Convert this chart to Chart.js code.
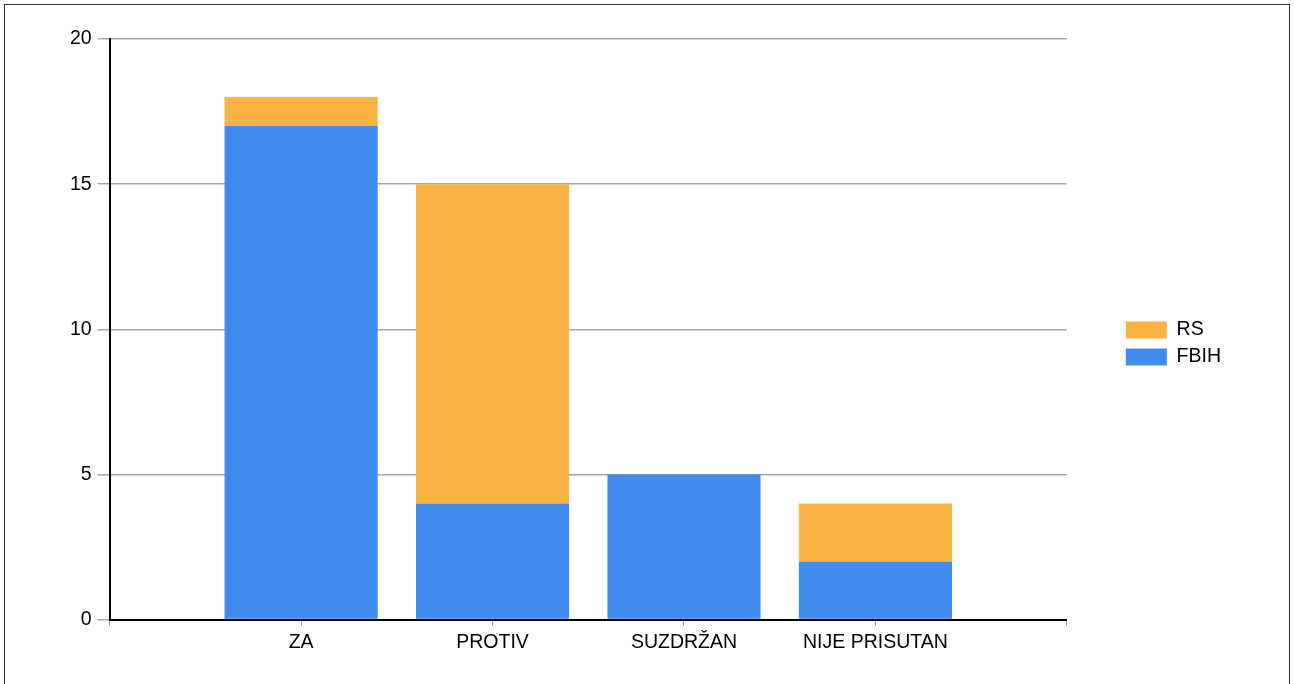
<!DOCTYPE html>
<html>
<head>
<meta charset="utf-8">
<script src="https://cdn.jsdelivr.net/npm/chart.js@4/dist/chart.umd.min.js"></script>
<style>
  html, body { margin: 0; padding: 0; background: #fff; }
  #wrap { position: relative; width: 1295px; height: 684px; }
  #frame {
    position: absolute; left: 4px; top: 4px; width: 1284px; height: 679px;
    border-left: 1px solid #333; border-top: 1px solid #333; border-right: 1px solid #333;
    border-bottom: 1px solid #aaa; pointer-events: none;
  }
  canvas { position: absolute; left: 0; top: 0; }
</style>
</head>
<body>
<div id="wrap">
  <canvas id="myChart" width="1295" height="684"></canvas>
  <div id="frame"></div>
</div>
<script>
// values
const categories = ["ZA", "PROTIV", "SUZDRŽAN", "NIJE PRISUTAN"];
const fbih = [17, 4, 5, 2];
const rs = [1, 11, 0, 2];
const yTicks = [0, 5, 10, 15, 20];

// the axis runs from an empty slot before to an empty slot after
const labels = ["", ...categories, ""];
const pad = (arr) => [null, ...arr, null];

const FONT = "'Liberation Sans', Arial, sans-serif";

// nudge the legend up a little, it sits slightly above centre in the reference
const legendNudge = {
  id: "legendNudge",
  afterLayout: function (chart) {
    if (chart.legend) {
      chart.legend.top -= 5.5;
      chart.legend.bottom -= 5.5;
    }
  },
};

var ctx = document.getElementById("myChart").getContext("2d");
var myChart = new Chart(ctx, {
  type: "bar",
  data: {
    labels: labels,
    datasets: [
      {
        label: "FBIH",
        data: pad(fbih),
        backgroundColor: "#418bee",
        borderWidth: 0,
        categoryPercentage: 1,
        barPercentage: 0.8,
      },
      {
        label: "RS",
        data: pad(rs),
        backgroundColor: "#f9b443",
        borderWidth: 0,
        categoryPercentage: 1,
        barPercentage: 0.8,
      },
    ],
  },
  plugins: [legendNudge],
  options: {
    responsive: false,
    animation: false,
    layout: {
      padding: { left: 64, top: 39, right: 64, bottom: 25 },
    },
    plugins: {
      tooltip: { enabled: false },
      legend: {
        position: "right",
        reverse: true,
        labels: {
          boxWidth: 41,
          boxHeight: 17,
          padding: 7.5,
          color: "#000",
          font: { family: FONT, size: 19.5 },
        },
      },
    },
    scales: {
      x: {
        stacked: true,
        offset: false,
        grid: {
          offset: false,
          drawOnChartArea: false,
          drawTicks: true,
          tickLength: 6,
          tickColor: "#999",
        },
        border: { display: true, color: "#000", width: 2 },
        ticks: {
          autoSkip: false,
          maxRotation: 0,
          padding: 5,
          color: "#000",
          font: { family: FONT, size: 19.5 },
        },
      },
      y: {
        stacked: true,
        min: yTicks[0],
        max: yTicks[yTicks.length - 1],
        afterBuildTicks: (scale) => {
          scale.ticks = yTicks.map((v) => ({ value: v }));
        },
        grid: {
          color: "#a6a6a6",
          lineWidth: 1.5,
          tickLength: 12,
          tickColor: "#a6a6a6",
        },
        border: { display: true, color: "#000", width: 2 },
        ticks: {
          padding: 6,
          color: "#000",
          font: { family: FONT, size: 19.5 },
        },
      },
      // empty spacer between the plot and the legend
      gap: {
        type: "linear",
        position: "right",
        grid: { display: false },
        border: { display: false },
        ticks: { display: false },
        afterFit: (scale) => {
          scale.width = 51.5;
        },
      },
    },
  },
});
</script>
</body>
</html>
